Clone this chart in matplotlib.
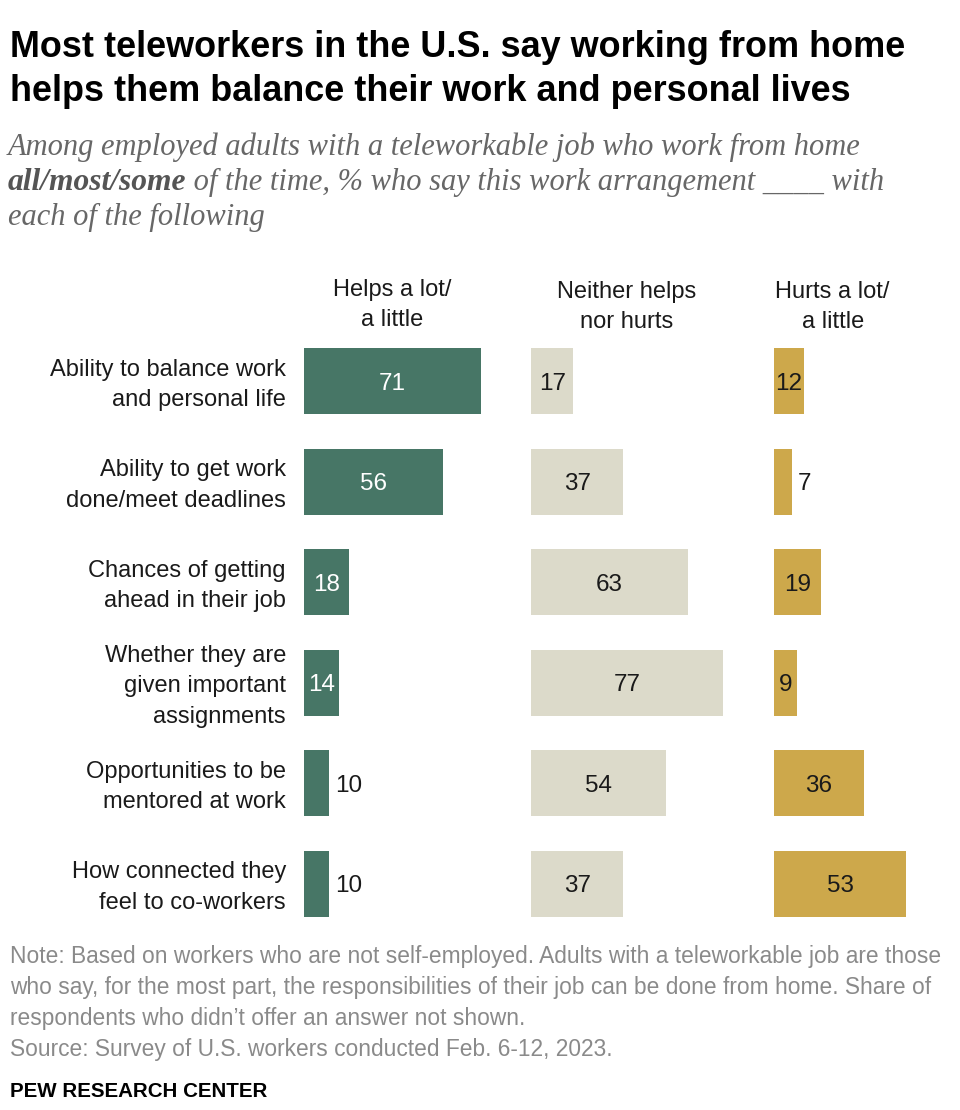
import matplotlib
matplotlib.use("Agg")
import matplotlib.pyplot as plt
from matplotlib import transforms

# ---------------- data ----------------
categories = [
    "Ability to balance work\nand personal life",
    "Ability to get work\ndone/meet deadlines",
    "Chances of getting\nahead in their job",
    "Whether they are\ngiven important\nassignments",
    "Opportunities to be\nmentored at work",
    "How connected they\nfeel to co-workers",
]
helps = [71, 56, 18, 14, 10, 10]
neither = [17, 37, 63, 77, 54, 37]
hurts = [12, 7, 19, 9, 36, 53]
column_labels = ["Helps a lot/\na little", "Neither helps\nnor hurts", "Hurts a lot/\na little"]

title_lines = [
    "Most teleworkers in the U.S. say working from home",
    "helps them balance their work and personal lives",
]
note_lines = [
    "Note: Based on workers who are not self-employed. Adults with a teleworkable job are those",
    "who say, for the most part, the responsibilities of their job can be done from home. Share of",
    "respondents who didn\u2019t offer an answer not shown.",
    "Source: Survey of U.S. workers conducted Feb. 6-12, 2023.",
]
credit = "PEW RESEARCH CENTER"

# ---------------- style ----------------
SANS = ["Liberation Sans", "DejaVu Sans"]
SERIF = ["Liberation Serif", "DejaVu Serif"]
plt.rcParams["font.family"] = SANS
colors = ["#477666", "#dcdaca", "#cda84b"]
text_dark = "#1a1a1a"

W, H = 960, 1110
fig = plt.figure(figsize=(W / 100, H / 100), dpi=100)
fig.patch.set_facecolor("white")
renderer = fig.canvas.get_renderer()


def fx(x):
    return x / W


def fy(y):
    return 1 - y / H


def put(x, y, s, target=None, **kw):
    t = fig.text(fx(x), fy(y), s, **kw)
    if target:
        w = t.get_window_extent(renderer).width
        t.set_fontsize(t.get_fontsize() * target / w)
    return t


# ---------------- title ----------------
t1 = put(10, 57, title_lines[0], target=893, fontsize=22, fontweight="bold",
         color="black", va="baseline")
put(10, 101, title_lines[1], fontsize=t1.get_fontsize(), fontweight="bold",
    color="black", va="baseline")

# ---------------- subtitle ----------------
sub_color = "#676767"
s1 = put(8, 155, "Among employed adults with a teleworkable job who work from home",
         target=857, fontsize=19, family=SERIF, style="italic", color=sub_color, va="baseline")
sfs = s1.get_fontsize()
b = put(8, 190, "all/most/some", fontsize=sfs * 1.03, family=SERIF, style="italic",
        fontweight="bold", color="#555555", va="baseline")
bw = b.get_window_extent(renderer).width
put(8 + bw, 190, " of the time, % who say this work arrangement ____ with", fontsize=sfs,
    family=SERIF, style="italic", color=sub_color, va="baseline")
put(8, 225, "each of the following", fontsize=sfs, family=SERIF, style="italic",
    color=sub_color, va="baseline")

# ---------------- bars ----------------
px_per_unit = 2.49
ax_left_px, ax_right_px = 304, 954
ax_top_px, ax_bot_px = 331, 934
ax = fig.add_axes([fx(ax_left_px), fy(ax_bot_px),
                   (ax_right_px - ax_left_px) / W, (ax_bot_px - ax_top_px) / H])
ax.set_xlim(0, (ax_right_px - ax_left_px) / px_per_unit)
n = len(categories)
ax.set_ylim(n - 0.5, -0.5)
ax.axis("off")

offsets = [0, 91.2, 188.8]
series = [helps, neither, hurts]
label_fs = 17
num_fs = 17.5
ypos = list(range(n))
for ci, (vals, off, col) in enumerate(zip(series, offsets, colors)):
    ax.barh(ypos, vals, left=off, height=0.66, color=col, edgecolor="none")
    for i, v in enumerate(vals):
        s = str(v)
        inside = v > 4 + 3.5 * len(s)
        if inside:
            tc = "white" if ci == 0 else text_dark
            ax.text(off + v / 2, i, s, ha="center", va="center_baseline", fontsize=num_fs, color=tc)
        else:
            ax.text(off + v + 2.4, i, s, ha="left", va="center_baseline", fontsize=num_fs,
                    color=text_dark)

# column headers
blend = transforms.blended_transform_factory(ax.transData, fig.transFigure)
hdr_x = [offsets[0] + max(helps) / 2, offsets[1] + max(neither) / 2, offsets[2] + max(hurts) / 2 - 3]
hdr_y = [305, 307, 307]
for lab, x, y in zip(column_labels, hdr_x, hdr_y):
    ax.text(x, fy(y), lab, transform=blend, ha="center", va="center",
            fontsize=label_fs, color=text_dark, linespacing=1.5)

# category labels
blend_y = transforms.blended_transform_factory(fig.transFigure, ax.transData)
for i, cat in enumerate(categories):
    ax.text(fx(286), i + 0.035, cat, transform=blend_y, ha="right", va="center",
            multialignment="right", fontsize=label_fs, color=text_dark, linespacing=1.5)

# ---------------- notes ----------------
note_color = "#8a8a8a"
n1 = put(10, 963, note_lines[0], target=933, fontsize=14, color=note_color, va="baseline")
nfs = n1.get_fontsize()
for line, yb in zip(note_lines[1:], [994, 1025, 1056]):
    put(10, yb, line, fontsize=nfs, color=note_color, va="baseline")
put(10, 1097, credit, target=258, fontsize=13, fontweight="bold", color="black", va="baseline")

fig.savefig("out.png", dpi=100, facecolor="white")
